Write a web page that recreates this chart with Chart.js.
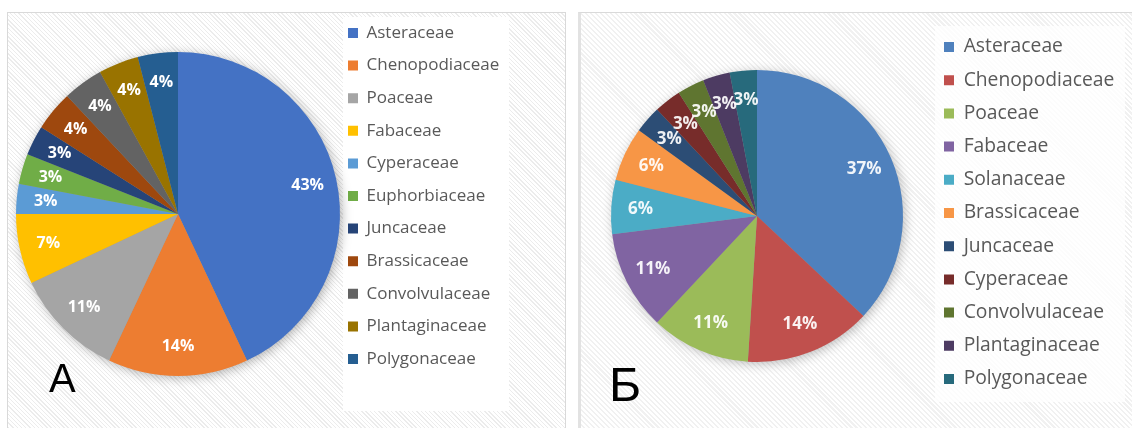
<!DOCTYPE html>
<html>
<head>
<meta charset="utf-8">
<script src="https://cdn.jsdelivr.net/npm/chart.js@4.4.0/dist/chart.umd.min.js"></script>
<style>
  body { margin:0; background:#fff; width:1132px; height:428px; overflow:hidden; position:relative; }
  .panel { position:absolute; top:12px; height:430px; border:1px solid #d9d9d9; border-bottom:none;
    background: repeating-linear-gradient(45deg, #ffffff 0px, #ffffff 2px, #ececec 2px, #ececec 3px); }
  #panelA { left:7px; width:557px; }
  #panelB { left:578px; width:560px; border-left:3px solid #e2e2e2;
    background: repeating-linear-gradient(45deg, #ffffff 0px, #ffffff 2px, #f1f1f1 2px, #f1f1f1 3.5px); }
  .legendBg { position:absolute; background:#fff; }
  #bgA { left:343px; top:17px; width:166px; height:394px; }
  #bgB { left:935px; top:26px; width:190px; height:376px; background:rgba(255,255,255,0.8); }
  .tag { position:absolute; color:#000; font-family:"Liberation Sans", Arial, sans-serif; line-height:1; }
  #tagA { left:49px; top:358px; font-size:40px; }
  #tagB { left:609px; top:360px; font-size:49px; }
  canvas { position:absolute; }
</style>
</head>
<body>
<div class="panel" id="panelA"></div>
<div class="panel" id="panelB"></div>
<div class="legendBg" id="bgA"></div>
<div class="legendBg" id="bgB"></div>
<canvas id="chartA" width="556" height="424" style="left:8px;top:2px"></canvas>
<canvas id="chartB" width="551" height="416" style="left:581px;top:12px"></canvas>
<div class="tag" id="tagA">А</div>
<div class="tag" id="tagB">Б</div>
<script>
// panel A
const familiesA = ['Asteraceae', 'Chenopodiaceae', 'Poaceae', 'Fabaceae', 'Cyperaceae', 'Euphorbiaceae',
  'Juncaceae', 'Brassicaceae', 'Convolvulaceae', 'Plantaginaceae', 'Polygonaceae'];
const sharesA = [43, 14, 11, 7, 3, 3, 3, 4, 4, 4, 4];
const colorsA = ['#4472C4', '#ED7D31', '#A5A5A5', '#FFC000', '#5B9BD5', '#70AD47',
  '#264478', '#9E480E', '#636363', '#997300', '#255E91'];

// panel B
const familiesB = ['Asteraceae', 'Chenopodiaceae', 'Poaceae', 'Fabaceae', 'Solanaceae', 'Brassicaceae',
  'Juncaceae', 'Cyperaceae', 'Convolvulaceae', 'Plantaginaceae', 'Polygonaceae'];
const sharesB = [37, 14, 11, 11, 6, 6, 3, 3, 3, 3, 3];
const colorsB = ['#4F81BD', '#C0504D', '#9BBB59', '#8064A2', '#4BACC6', '#F79646',
  '#2C4D75', '#772C2A', '#5F7530', '#4D3B62', '#276A7C'];

const FONT = '"Open Sans", sans-serif';

// percent labels + soft shadow behind the pie
const pieLabels = {
  id: 'pieLabels',
  beforeDatasetsDraw(chart, args, opts) {
    const arc = chart.getDatasetMeta(0).data[0];
    if (!arc) return;
    const ctx = chart.ctx;
    ctx.save();
    ctx.shadowColor = opts.shadow;
    ctx.shadowBlur = 12;
    ctx.shadowOffsetX = 2;
    ctx.shadowOffsetY = 2;
    ctx.beginPath();
    ctx.arc(arc.x, arc.y, arc.outerRadius - 1, 0, Math.PI * 2);
    ctx.fillStyle = '#999';
    ctx.fill();
    ctx.restore();
  },
  afterDatasetsDraw(chart, args, opts) {
    const ctx = chart.ctx;
    const values = chart.data.datasets[0].data;
    const total = values.reduce((a, b) => a + b, 0);
    ctx.save();
    ctx.font = 'bold ' + opts.size + 'px ' + FONT;
    ctx.fillStyle = opts.color;
    ctx.textAlign = 'center';
    ctx.textBaseline = 'middle';
    chart.getDatasetMeta(0).data.forEach((arc, i) => {
      const p = arc.getProps(['x', 'y', 'startAngle', 'endAngle', 'outerRadius'], true);
      const mid = (p.startAngle + p.endAngle) / 2;
      const r = p.outerRadius * opts.radial;
      ctx.fillText(Math.round(values[i] / total * 100) + '%', p.x + Math.cos(mid) * r, p.y + Math.sin(mid) * r);
    });
    ctx.restore();
  }
};

function legendWidth(labels, size, pad, box) {
  const c = document.createElement('canvas').getContext('2d');
  c.font = 'normal ' + size + 'px ' + FONT;
  let w = 0;
  labels.forEach(t => { w = Math.max(w, c.measureText(t).width); });
  return pad + box + size / 2 + w + 10;
}

function makePie(id, labels, values, colors, s) {
  const canvas = document.getElementById(id);
  const lw = legendWidth(labels, s.fontSize, s.pad, s.box);
  const legendLeft = s.boxX - s.pad;
  return new Chart(canvas, {
    type: 'pie',
    data: {
      labels: labels,
      datasets: [{
        data: values,
        backgroundColor: colors,
        borderWidth: 0,
        radius: s.radius
      }]
    },
    plugins: [pieLabels],
    options: {
      responsive: false,
      animation: false,
      layout: {
        padding: {
          top: s.top,
          bottom: s.bottom,
          left: 2 * s.cx - legendLeft,
          right: canvas.width - legendLeft - lw
        }
      },
      plugins: {
        tooltip: { enabled: false },
        legend: {
          position: 'right',
          align: 'start',
          labels: {
            boxWidth: s.box,
            boxHeight: s.box,
            padding: s.pad,
            color: '#595959',
            font: { size: s.fontSize, family: FONT }
          }
        },
        pieLabels: { radial: s.radial, size: s.labelSize, color: s.labelColor, shadow: s.shadow }
      }
    }
  });
}

makePie('chartA', familiesA, sharesA, colorsA, {
  cx: 170, radius: 162, top: 6.9, bottom: 6.9, boxX: 340, box: 10, pad: 15.6, fontSize: 17,
  radial: 0.82, labelSize: 16, labelColor: '#ffffff', shadow: 'rgba(0,0,0,0.35)'
});
makePie('chartB', familiesB, sharesB, colorsB, {
  cx: 176, radius: 146, top: 11.45, bottom: 19.45, boxX: 363, box: 10, pad: 13.9, fontSize: 19.3,
  radial: 0.8, labelSize: 17, labelColor: 'rgba(255,255,255,0.92)', shadow: 'rgba(0,0,0,0.3)'
});
</script>
</body>
</html>
